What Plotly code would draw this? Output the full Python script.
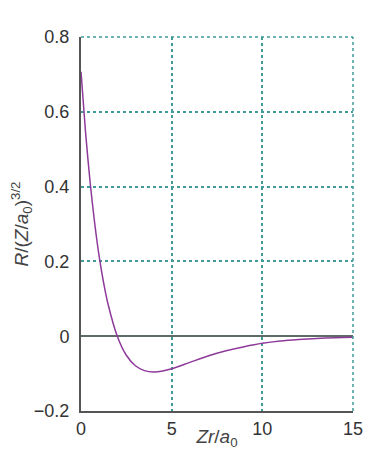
import plotly.graph_objects as go

# Values (Zr/a0 vs R/(Z/a0)^{3/2})
x_vals = [0, 0.25, 0.5, 0.75, 1, 1.25, 1.5, 2, 2.5, 3, 3.5, 4, 4.5, 5, 6, 7, 8, 9, 10, 11, 12, 13, 14, 15]
r_vals = [0.707, 0.546, 0.413, 0.304, 0.214, 0.142, 0.084, 0.0, -0.051, -0.079, -0.092, -0.096, -0.093,
          -0.087, -0.070, -0.053, -0.039, -0.028, -0.019, -0.013, -0.009, -0.006, -0.004, -0.0025]
x_ticks = [0, 5, 10, 15]
y_ticks = [-0.2, 0, 0.2, 0.4, 0.6, 0.8]
y_tick_text = ["\u22120.2", "0", "0.2", "0.4", "0.6", "0.8"]

grid_col = "#3f9a98"
font = "Liberation Sans, Arial, sans-serif"

fig = go.Figure()
fig.add_trace(go.Scatter(x=x_vals, y=r_vals, mode="lines",
                         line=dict(color="#8e3a9a", width=1.5, shape="spline", smoothing=0.8),
                         hoverinfo="skip", showlegend=False))

fig.update_layout(
    width=366, height=450,
    margin=dict(l=81, r=13, t=37, b=39, autoexpand=False),
    paper_bgcolor="white", plot_bgcolor="white",
    font=dict(family=font, size=18, color="#333333"),
    showlegend=False,
    xaxis=dict(range=[0, 15], tickvals=x_ticks, ticks="", showgrid=True,
               gridcolor=grid_col, griddash="dot", gridwidth=1.5,
               showline=True, linecolor="#555555", linewidth=2, zeroline=False,
               automargin=False,
               tickfont=dict(size=18, color="#333333"),
               title=dict(text="<i>Zr</i>/<i>a</i><sub>0</sub>", standoff=0,
                          font=dict(size=19, color="#444444"))),
    yaxis=dict(range=[-0.2, 0.8], tickvals=y_ticks, ticktext=y_tick_text, ticks="",
               showgrid=True, gridcolor=grid_col, griddash="dot", gridwidth=1.5,
               showline=True, linecolor="#555555", linewidth=2,
               zeroline=True, zerolinecolor="#5e6a66", zerolinewidth=2,
               ticklabelstandoff=6, automargin=False,
               tickfont=dict(size=18, color="#333333"),
               title=dict(text="<i>R</i>/(<i>Z</i>/<i>a</i><sub>0</sub>)<sup>3/2</sup>", standoff=0,
                          font=dict(size=19, color="#444444"))),
)

# top and right frame lines (dotted teal)
fig.add_shape(type="line", xref="paper", yref="paper", x0=0, x1=1, y0=1, y1=1,
              line=dict(color=grid_col, width=1.5, dash="dot"))
fig.add_shape(type="line", xref="paper", yref="paper", x0=1, x1=1, y0=0, y1=1,
              line=dict(color=grid_col, width=1.5, dash="dot"))

fig.write_html("out.html", config={"responsive": False, "displayModeBar": False},
               post_script="document.body.style.margin='0';document.body.style.overflow='hidden';")
